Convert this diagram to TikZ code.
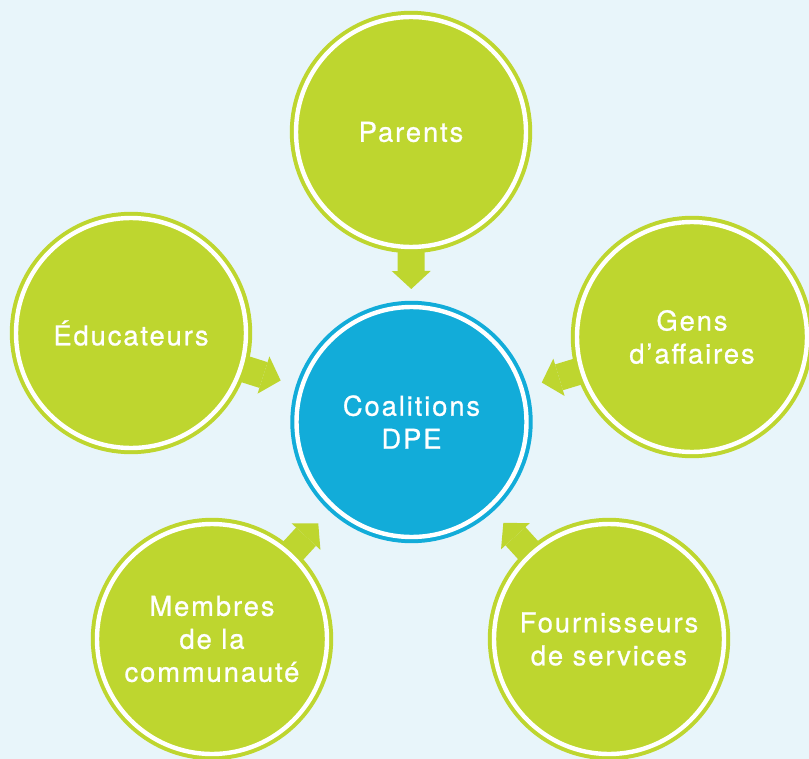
\documentclass[tikz,border=0pt]{standalone}
\usepackage{fontspec}
\setmainfont{TeX Gyre Heros}[LetterSpace=7,FakeBold=0.8]
\usetikzlibrary{arrows.meta,calc}

\definecolor{bgBlue}{RGB}{232,245,250}
\definecolor{leafGreen}{RGB}{190,214,47}
\definecolor{coreBlue}{RGB}{18,172,217}

\pgfdeclarelayer{background}
\pgfsetlayers{background,main}

\tikzset{every picture/.style={line width=0.75pt}}
\tikzset{
  partner/.style={circle, minimum size=172.5pt, inner sep=0pt, fill=leafGreen, draw=leafGreen, line width=3pt, double=white, double distance=3.3pt, text=white, align=center, font=\fontsize{20.5}{24.75}\selectfont},
  hub/.style={partner, fill=coreBlue, draw=coreBlue},
  feed/.style={leafGreen, line width=20.25pt, -{Triangle[width=29.25pt,length=13.5pt,line width=0pt]}}
}

\begin{document}
\begin{tikzpicture}[x=0.75pt,y=0.75pt,yscale=-1,xscale=1]
\useasboundingbox (0,0) rectangle (809,759);

% Centre
\node[hub] (dpe) at (411.5,422) {Coalitions\\DPE};
% Partners
\node[partner] (par) at (411,132) {Parents};
\node[partner] (edu) at (131,333) {Éducateurs};
\node[partner] (gens) at (692,337) {Gens\\d’affaires};
\node[partner] (memb) at (212,639) {Membres\\de la\\communauté};
\node[partner] (four) at (609,639) {Fournisseurs\\de services};

% Background and arrows behind the circles
\begin{pgfonlayer}{background}
\fill[bgBlue] (0,0) rectangle (809,759);
\foreach \src in {par,edu,gens,memb,four}
  \draw[feed] ($(\src)!82.5pt!(dpe)$) -- ($(\src)!117.75pt!(dpe)$);
\end{pgfonlayer}

\end{tikzpicture}
\end{document}
